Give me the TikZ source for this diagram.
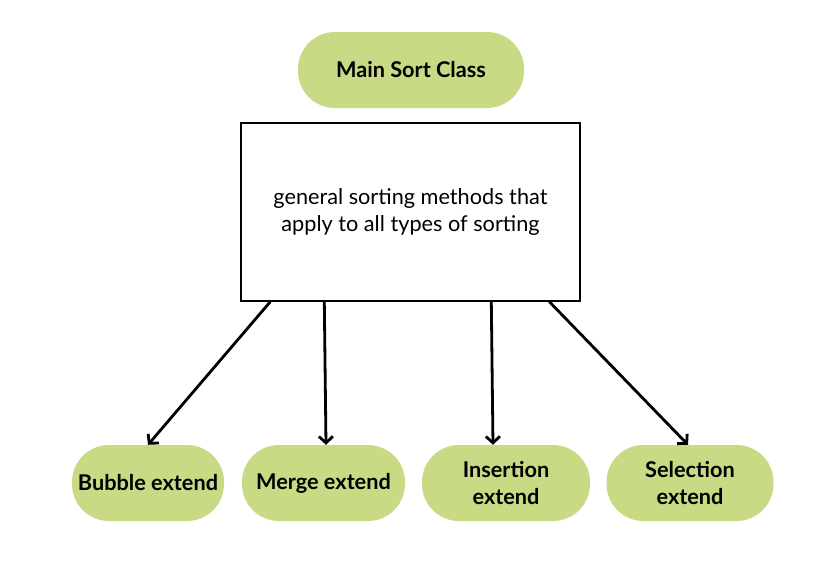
\documentclass[tikz,border=0pt]{standalone}
\usepackage{fontspec}
\setmainfont{Lato}
\usetikzlibrary{arrows.meta}
\definecolor{pillgreen}{RGB}{200,218,132}
\tikzset{
  pill/.style={fill=pillgreen, draw=none, rounded corners=37pt, minimum height=76pt,
    align=center, font=\fontsize{21.7}{27.5}\selectfont\bfseries, inner sep=0pt},
  descbox/.style={draw=black, line width=1.4pt, fill=white, align=center,
    font=\fontsize{21.7}{27}\selectfont, inner sep=0pt},
  arr/.style={line width=2.8pt, -{Straight Barb[length=6.5pt,width=14pt,line width=2.8pt]}}
}
\begin{document}
\begin{tikzpicture}[x=1pt,y=-1pt]
\useasboundingbox[fill=white] (0,0) rectangle (830,584);
\node[pill, minimum width=226pt] (main) at (411,70) {Main Sort Class};
\node[descbox, minimum width=339pt, minimum height=178pt] (box) at (410.5,212)
  {general sorting methods that\\apply to all types of sorting};
\node[pill, minimum width=152pt] (bubble) at (148,483) {Bubble extend};
\node[pill, minimum width=163pt] (merge) at (323.5,483) {Merge extend};
\node[pill, minimum width=168pt] (insertion) at (506,483) {Insertion\\extend};
\node[pill, minimum width=167pt] (selection) at (690,483) {Selection\\extend};
\draw[arr] ([xshift=30pt]box.south west) -- (bubble.north);
\draw[arr] ([xshift=84pt]box.south west) -- ([xshift=2.5pt]merge.north);
\draw[arr] ([xshift=251pt]box.south west) -- ([xshift=-13pt]insertion.north);
\draw[arr] ([xshift=309pt]box.south west) -- ([xshift=-2pt]selection.north);
\end{tikzpicture}
\end{document}
